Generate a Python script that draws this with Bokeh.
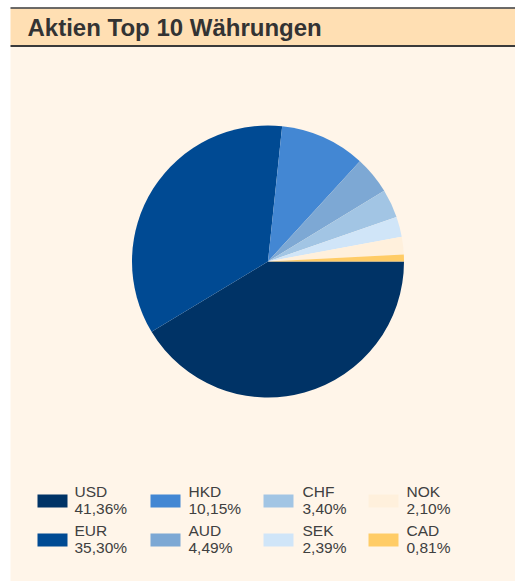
import math
from bokeh.plotting import figure
from bokeh.models import Range1d, ColumnDataSource
from bokeh.core.properties import value
from bokeh.embed import file_html
from bokeh.resources import INLINE

# ---- data ----
currencies = ["USD", "EUR", "HKD", "AUD", "CHF", "SEK", "NOK", "CAD"]
shares = [41.36, 35.30, 10.15, 4.49, 3.40, 2.39, 2.10, 0.81]
colors = ["#003366", "#004A93", "#4387D3", "#7DA8D4", "#A2C5E4", "#D0E5F8", "#FFF0DC", "#FFCC66"]
title = "Aktien Top 10 Währungen"

W, H = 515, 581
p = figure(width=W, height=H, output_backend="svg", toolbar_location=None,
           x_range=Range1d(0, W), y_range=Range1d(0, H), min_border=0,
           background_fill_color="white", border_fill_color="white")
p.axis.visible = False
p.grid.visible = False
p.outline_line_color = None

def Y(py):
    return H - py

# background panel
p.quad(left=[10], right=[W], bottom=[Y(H)], top=[Y(46)], fill_color="#FFF5E9", line_color=None)
# header band
p.quad(left=[10], right=[W], bottom=[Y(45)], top=[Y(8)], fill_color="#FFDFB3", line_color=None)
p.segment(x0=[10, 10], x1=[W, W], y0=[Y(7.5), Y(45.5)], y1=[Y(7.5), Y(45.5)], line_color="#3A3A3A", line_width=[1.5, 2])
p.text(x=[27], y=[Y(27)], text=[title], text_font=value("Liberation Sans"), text_font_style="bold",
       text_font_size="24px", text_color="#333333", text_baseline="middle")

# pie (clockwise from 3 o'clock)
total = sum(shares)
cum = [0.0]
for s in shares:
    cum.append(cum[-1] + s / total)
starts = [-cum[i + 1] * 2 * math.pi for i in range(len(shares))]
ends = [-cum[i] * 2 * math.pi for i in range(len(shares))]
src = ColumnDataSource(dict(start=starts, end=ends, color=colors))
cx, cy, r = 267.5, 261, 136
p.wedge(x=cx, y=Y(cy), radius=r, start_angle="start", end_angle="end", fill_color="color",
        line_color=None, source=src)

# legend (column-major, 2 rows)
col_sq = [37, 150, 263, 368]
col_tx = [74, 188, 302, 406]
row_sq = [494, 533]
row_mid = [491, 530]
sq_x, sq_y, tx_x, l1_y, l2_y, labels2 = [], [], [], [], [], []
for i, (c, s) in enumerate(zip(currencies, shares)):
    col, row = i // 2, i % 2
    sq_x.append(col_sq[col] + 15)
    sq_y.append(Y(row_sq[row] + 6.5))
    tx_x.append(col_tx[col])
    l1_y.append(Y(row_mid[row]))
    l2_y.append(Y(row_mid[row] + 17))
    labels2.append(f"{s:.2f}%".replace(".", ","))
p.rect(x=sq_x, y=sq_y, width=30, height=13, fill_color=colors, line_color=None)
p.text(x=tx_x, y=l1_y, text=currencies, text_font=value("Liberation Sans"), text_font_size="15.5px",
       text_color="#404040", text_baseline="middle")
p.text(x=tx_x, y=l2_y, text=labels2, text_font=value("Liberation Sans"), text_font_size="15.5px",
       text_color="#404040", text_baseline="middle")

open("out.html", "w").write(file_html(p, INLINE))
